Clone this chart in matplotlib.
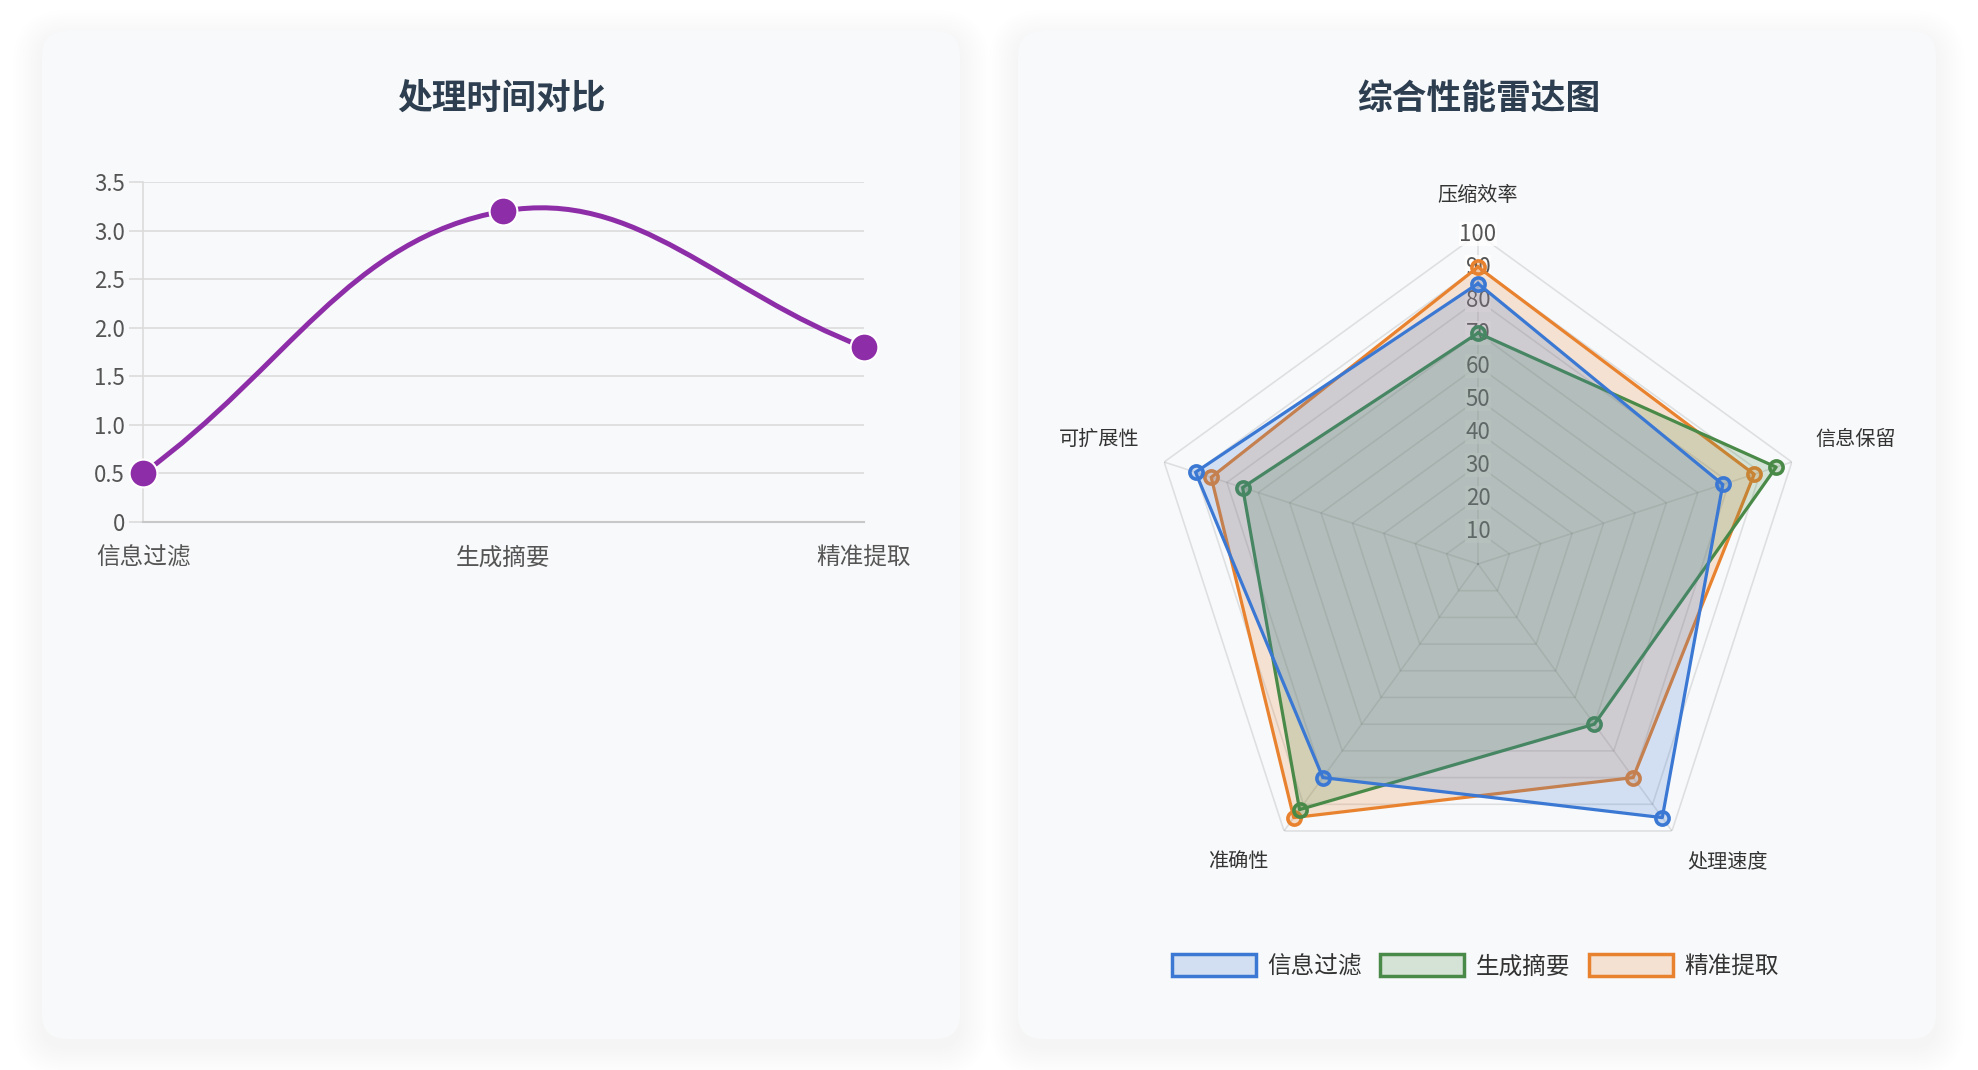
import numpy as np
import matplotlib
matplotlib.use('Agg')
import matplotlib.pyplot as plt
from matplotlib.patches import FancyBboxPatch, Patch
from matplotlib.path import Path
from matplotlib.patches import PathPatch

plt.rcParams['font.family'] = ['Noto Sans CJK SC', 'DejaVu Sans']

# line chart data
methods = ['信息过滤', '生成摘要', '精准提取']
times = [0.5, 3.2, 1.8]
y_ticks = [0, 0.5, 1.0, 1.5, 2.0, 2.5, 3.0, 3.5]
y_tick_labels = ['0', '0.5', '1.0', '1.5', '2.0', '2.5', '3.0', '3.5']

# radar data
radar_labels = ['压缩效率', '信息保留', '处理速度', '准确性', '可扩展性']
filter_vals = [85, 78, 95, 80, 90]
summary_vals = [70, 95, 60, 92, 75]
extract_vals = [90, 88, 80, 95, 85]
r_ticks = [10, 20, 30, 40, 50, 60, 70, 80, 90, 100]

W, H = 1978, 1070
fig = plt.figure(figsize=(W / 100, H / 100), dpi=100)
fig.patch.set_facecolor('white')

# background cards
bg = fig.add_axes([0, 0, 1, 1], zorder=0)
bg.set_xlim(0, W)
bg.set_ylim(H, 0)
bg.axis('off')
card_w, card_h, card_top = 918, 1008, 31
for x0 in [42, 1018]:
    for k in range(10):
        grow = 2 + k * 3
        bg.add_patch(FancyBboxPatch((x0 - grow, card_top - grow + 8), card_w + 2 * grow, card_h + 2 * grow,
                                    boxstyle="round,pad=0,rounding_size=%d" % (25 + grow),
                                    facecolor='black', edgecolor='none', alpha=0.005))
    bg.add_patch(FancyBboxPatch((x0, card_top), card_w, card_h, boxstyle="round,pad=0,rounding_size=25",
                                facecolor='#f8f9fa', edgecolor='none'))

bg.text(501, 98, '处理时间对比', ha='center', va='center', fontsize=25, fontweight='bold', color='#2c3e50')
bg.text(1479, 98, '综合性能雷达图', ha='center', va='center', fontsize=25, fontweight='bold', color='#2c3e50')

# ---- line chart ----
ax = fig.add_axes([143 / W, 1 - 522 / H, 721 / W, 340 / H], zorder=1)
ax.set_facecolor('none')
ax.set_xlim(0, 2)
ax.set_ylim(0, 3.5)
x = np.arange(len(methods))
purple = '#8e2da8'

# chart.js style spline (tension 0.4) computed in pixel space
pts = ax.transData.transform(np.column_stack([x, times]))
t = 0.4
cps = []
n = len(pts)
for i in range(n):
    prev = pts[max(i - 1, 0)]
    cur = pts[i]
    nxt = pts[min(i + 1, n - 1)]
    d01 = np.hypot(*(cur - prev))
    d12 = np.hypot(*(nxt - cur))
    s01 = d01 / (d01 + d12)
    s12 = d12 / (d01 + d12)
    cps.append((cur - t * s01 * (nxt - prev), cur + t * s12 * (nxt - prev)))
verts = [pts[0]]
codes = [Path.MOVETO]
for i in range(n - 1):
    verts += [cps[i][1], cps[i + 1][0], pts[i + 1]]
    codes += [Path.CURVE4] * 3
verts = ax.transData.inverted().transform(np.array(verts))
ax.add_patch(PathPatch(Path(verts, codes), facecolor='none', edgecolor=purple, lw=3.6, zorder=3))
ax.plot(x, times, 'o', color=purple, markersize=20, markeredgecolor='white', markeredgewidth=1.5,
        zorder=4, clip_on=False)

ax.set_yticks(y_ticks)
ax.set_yticklabels(y_tick_labels)
ax.set_xticks(x)
ax.set_xticklabels(methods)
ax.grid(axis='y', color='#dcdcdc', lw=1.2)
ax.set_axisbelow(True)
for s in ['top', 'right']:
    ax.spines[s].set_visible(False)
ax.spines['left'].set_color('#dcdcdc')
ax.spines['bottom'].set_color('#c8c8c8')
ax.spines['left'].set_linewidth(1.2)
ax.spines['bottom'].set_linewidth(1.5)
ax.tick_params(axis='y', length=10, color='#dcdcdc', width=1.2, pad=3, labelsize=16, labelcolor='#555555')
ax.tick_params(axis='x', length=0, pad=17.5, labelsize=17, labelcolor='#555555')

# ---- radar chart ----
cx, cy, R = 1478, 564, 330
rax = fig.add_axes([(cx - R) / W, 1 - (cy + R) / H, 2 * R / W, 2 * R / H], projection='polar', zorder=1)
rax.set_facecolor('none')
rax.set_theta_offset(np.pi / 2)
rax.set_theta_direction(-1)
rax.set_ylim(0, 100)
rax.grid(False)
rax.spines['polar'].set_visible(False)
rax.set_xticks([])
rax.set_yticks([])

ang = np.linspace(0, 2 * np.pi, len(radar_labels), endpoint=False)
ang_c = np.append(ang, ang[0])
for r in r_ticks:
    rax.plot(ang_c, [r] * len(ang_c), color='#000000', alpha=0.1, lw=1.2, zorder=1)
for a in ang:
    rax.plot([a, a], [0, 100], color='#000000', alpha=0.1, lw=1.2, zorder=1)

# tick labels sit under the dataset fills, as in the original
for r in r_ticks:
    rax.text(0, r, str(r), ha='center', va='center', fontsize=16, color='#555555', zorder=1.5,
             bbox=dict(facecolor='white', alpha=0.75, edgecolor='none', pad=0.5))

series = [
    ('信息过滤', filter_vals, '#3a78d4'),
    ('生成摘要', summary_vals, '#4a8a48'),
    ('精准提取', extract_vals, '#e8822f'),
]
handles = []
for k, (name, vals, col) in enumerate(series):
    z = 2 + (len(series) - k) * 0.3  # first dataset on top
    v = np.append(vals, vals[0])
    rax.fill(ang_c, v, color=col, alpha=0.2, zorder=z, lw=0)
    rax.plot(ang_c, v, color=col, lw=2.3, zorder=z + 0.1)
    rax.plot(ang, vals, 'o', linestyle='none', markersize=9.5, markeredgecolor=col,
             markerfacecolor=matplotlib.colors.to_rgba(col, 0.25), markeredgewidth=2.6,
             zorder=z + 0.2, clip_on=False)
    handles.append(Patch(facecolor=matplotlib.colors.to_rgba(col, 0.2), edgecolor=col, lw=2.5, label=name))

label_offsets = [(0, 28, 'center'), (17, 16, 'left'), (11, -22, 'left'), (-11, -22, 'right'), (-18, 16, 'right')]
for a, lab, (dx, dy, ha) in zip(ang, radar_labels, label_offsets):
    rax.annotate(lab, xy=(a, 100), xytext=(dx, dy), textcoords='offset points', ha=ha, va='center',
                 fontsize=14.5, color='#333333', annotation_clip=False)

fig.legend(handles=handles, loc='center', bbox_to_anchor=(1475 / W, 1 - 966 / H), ncol=3, frameon=False,
           fontsize=17, handlelength=3.56, handleheight=1.1, handletextpad=0.47, columnspacing=0.8,
           labelcolor='#333333')

fig.savefig('out.png', dpi=100, facecolor='white')
